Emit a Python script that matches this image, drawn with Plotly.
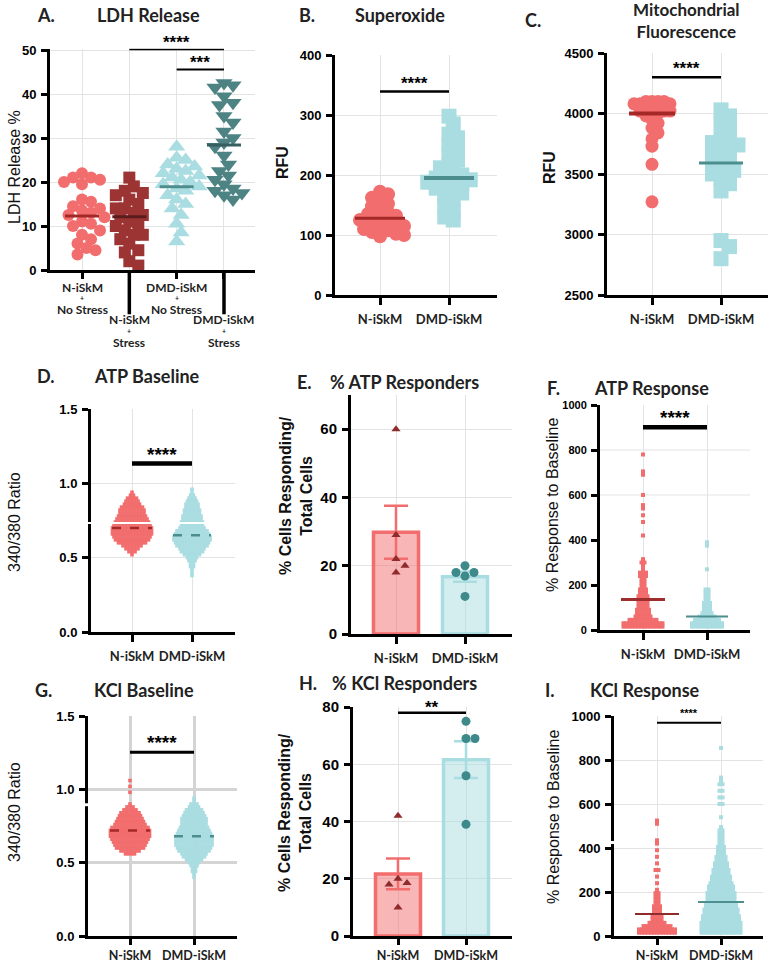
import numpy as np
import plotly.graph_objects as go

W, H = 772, 964
OFF = 0
WF, HF = W, H

# ---------------- categories / labels ----------------
groups2 = ["N-iSkM", "DMD-iSkM"]
ldh_cat_lines = [["N-iSkM", "+", "No Stress"], ["N-iSkM", "+", "Stress"],
                 ["DMD-iSkM", "+", "No Stress"], ["DMD-iSkM", "+", "Stress"]]

# ---------------- A: LDH release % ----------------
ldh_n_nostress = [22, 21, 21, 20.5, 20, 19.5, 16, 15.5, 14.5, 14, 13.5, 13, 12.5, 12,
                  11, 10.5, 10, 9, 8, 7, 6, 5, 4.5, 3.5]
ldh_n_stress = [21, 19, 18, 17.5, 17, 16, 15, 14, 14, 13, 12.5, 12, 11, 10.5, 10, 9,
                8, 8, 7, 6, 4.5, 4, 2, 1]
ldh_dmd_nostress = [28, 25.5, 25, 24, 23.5, 23, 22.5, 22, 21.5, 21, 20.5, 20, 19.5, 19,
                    18.5, 18, 17, 16, 15, 14, 12.5, 10.5, 8.5, 6.5]
ldh_dmd_stress = [42.5, 42, 41.5, 39.5, 38, 37.5, 35, 33.5, 31.5, 30, 29, 28, 26, 24,
                  22.5, 21.5, 20.5, 19.5, 18.5, 18, 17.5, 17, 16]
ldh_means = [12.3, 12.1, 18.9, 28.4]

# ---------------- B: Superoxide (RFU) ----------------
sox_n = [172, 168, 162, 158, 152, 148, 142, 138, 135, 132, 128, 125, 122, 120, 118,
         115, 112, 110, 108, 105, 102, 100, 98]
sox_dmd = [298, 285, 268, 262, 250, 243, 235, 225, 218, 212, 205, 200, 198, 195, 192,
           190, 188, 185, 182, 178, 175, 170, 165, 160, 150, 140, 130, 125]
sox_means = [128, 195]

# ---------------- C: Mitochondrial fluorescence (RFU) ----------------
mito_n = [4100, 4100, 4100, 4100, 4080, 4080, 4080, 4050, 4050, 4050, 4020, 4020, 4020,
          4000, 4000, 3980, 3950, 3920, 3880, 3840, 3790, 3730, 3580, 3270]
mito_dmd = [4030, 3980, 3920, 3870, 3800, 3780, 3760, 3740, 3720, 3700, 3680, 3640,
            3600, 3580, 3560, 3530, 3500, 3460, 3420, 3360, 2950, 2900, 2800]
mito_means = [4000, 3590]

# ---------------- D: ATP baseline (340/380) ----------------
atpb_n_levels = [0.52, 0.54, 0.56, 0.58, 0.60, 0.62, 0.64, 0.66, 0.68, 0.70, 0.72,
                 0.74, 0.76, 0.78, 0.80, 0.82, 0.84, 0.86, 0.88, 0.90, 0.92, 0.94]
atpb_n_counts = [1, 3, 5, 7, 10, 12, 13, 14, 14, 14, 13, 12, 11, 10, 9, 9, 8, 6, 5, 4, 2, 1]
atpb_dmd_levels = [0.38, 0.40, 0.42, 0.44, 0.46, 0.48, 0.50, 0.52, 0.54, 0.56, 0.58,
                   0.60, 0.62, 0.64, 0.66, 0.68, 0.70, 0.72, 0.74, 0.76, 0.78, 0.80,
                   0.82, 0.84, 0.86, 0.88, 0.90, 0.92, 0.94, 0.96]
atpb_dmd_counts = [1, 1, 1, 2, 2, 3, 4, 6, 8, 9, 11, 12, 13, 13, 12, 11, 9, 8, 8, 7,
                   7, 6, 6, 5, 5, 4, 3, 2, 1, 1]
atpb_means = [0.70, 0.65]

# ---------------- E: % ATP responders ----------------
atpr_n = [60, 29, 22, 20, 18]
atpr_dmd = [20, 18, 18, 17, 11]

# ---------------- F: ATP response (% of baseline) ----------------
atpresp_n_levels = [15, 30, 45, 60, 75, 90, 105, 120, 135, 150, 165, 180, 195, 210, 225,
                    240, 255, 270, 285, 300, 315, 420, 480, 510, 540, 555, 600, 690, 705, 780]
atpresp_n_counts = [14, 14, 10, 6, 5, 5, 4, 4, 4, 4, 3, 3, 2, 2, 2, 3, 3, 1, 1, 2, 1,
                    1, 1, 1, 1, 1, 1, 1, 1, 1]
atpresp_dmd_levels = [15, 30, 45, 60, 75, 90, 105, 120, 135, 150, 165, 180, 270, 375, 390]
atpresp_dmd_counts = [11, 11, 9, 6, 4, 3, 3, 3, 2, 2, 2, 2, 1, 1, 1]
atpresp_means = [135, 60]

# ---------------- G: KCl baseline (340/380) ----------------
kclb_n_levels = [0.56, 0.58, 0.60, 0.62, 0.64, 0.66, 0.68, 0.70, 0.72, 0.74, 0.76,
                 0.78, 0.80, 0.82, 0.84, 0.86, 0.88, 0.90, 0.98, 1.02, 1.06]
kclb_n_counts = [4, 7, 10, 11, 12, 13, 14, 14, 14, 13, 11, 10, 9, 8, 7, 5, 3, 1, 1, 1, 1]
kclb_dmd_levels = [0.40, 0.42, 0.44, 0.46, 0.48, 0.50, 0.52, 0.54, 0.56, 0.58, 0.60,
                   0.62, 0.64, 0.66, 0.68, 0.70, 0.72, 0.74, 0.76, 0.78, 0.80, 0.82,
                   0.84, 0.86, 0.88, 0.90, 0.92, 0.94]
kclb_dmd_counts = [1, 1, 2, 2, 3, 4, 6, 8, 9, 11, 12, 13, 13, 13, 13, 12, 11, 10, 9, 9,
                   9, 8, 7, 6, 4, 3, 1, 1]
kclb_means = [0.72, 0.68]

# ---------------- H: % KCl responders ----------------
kclr_n = [42, 20, 18.5, 18, 10]
kclr_dmd = [75, 69, 69, 56, 39]

# ---------------- I: KCl response (% of baseline) ----------------
kclresp_n_levels = [15, 30, 45, 60, 75, 90, 105, 120, 135, 150, 165, 180, 195, 210, 240,
                    270, 300, 330, 360, 390, 420, 435, 510, 525]
kclresp_n_counts = [13, 13, 10, 6, 4, 4, 3, 3, 3, 2, 2, 2, 2, 1, 1, 1, 2, 1, 1, 1, 1, 1, 1, 1]
kclresp_dmd_levels = [15, 30, 45, 60, 75, 90, 105, 120, 135, 150, 165, 180, 195, 210, 225,
                      240, 255, 270, 285, 300, 315, 330, 345, 360, 375, 390, 405, 420,
                      435, 450, 465, 480, 495, 540, 600, 630, 660, 690, 705, 720, 855]
kclresp_dmd_counts = [14, 14, 14, 14, 13, 13, 12, 12, 11, 11, 10, 10, 10, 9, 9, 8, 7, 7,
                      6, 6, 5, 5, 4, 4, 3, 3, 3, 2, 2, 2, 2, 2, 1, 1, 2, 2, 2, 2, 1, 1, 1]
kclresp_means = [100, 155]

# significance: (panel, x0, x1, y_line, label, y_text)
sig_marks = [
    (1, 1, 3, 50.2, "****", 52.6), (1, 2, 3, 45.6, "***", 47.9),
    (2, 0, 1, 339, "****", 359), (3, 0, 1, 4300, "****", 4405),
    (4, 0, 1, 1.134, "****", 1.225), (6, 0, 1, 901, "****", 965),
    (7, 0, 1, 1.252, "****", 1.345), (8, 0, 1, 78, "**", 81.3),
    (9, 0, 1, 969, "****", 1025),
]

# ---------------- styling ----------------
SALMON = "#F26D6D"
LBLUE = "#A9DDE1"
MAROON = "#9C3434"
DTEAL = "#4E8384"
RED_MEAN = "#A52828"
TEAL_MEAN = "#4C8E8E"
GRID = "#E3E3E3"
TICKFONT = dict(family="Liberation Sans, Arial", size=13, color="black", weight="bold")
CATFONT = dict(family="Lato", size=13, color="#222222", weight="bold")
TITLEFONT = dict(family="Lato", size=18, color="#222222", weight="bold")

# panel geometry in page pixels (axis box), first category pixel, category spacing
geom = {
    1: dict(l=50, r=255, t=48.7, b=270, c0=82, sp=47.33, yr=[0, 50.3]),
    2: dict(l=335, r=497, t=55, b=295, c0=380, sp=69, yr=[0, 400]),
    3: dict(l=607, r=768, t=53, b=295, c0=652, sp=69, yr=[2500, 4500]),
    4: dict(l=91, r=235, t=409, b=632, c0=132, sp=60, yr=[0, 1.5]),
    5: dict(l=351, r=512, t=395, b=634, c0=396, sp=69, yr=[0, 70]),
    6: dict(l=600, r=750, t=405, b=630, c0=643, sp=64, yr=[0, 1000]),
    7: dict(l=88, r=237, t=716, b=936, c0=130, sp=64, yr=[0, 1.5]),
    8: dict(l=353, r=512, t=707, b=936, c0=398, sp=68, yr=[0, 80]),
    9: dict(l=614, r=763, t=716, b=936, c0=657, sp=64, yr=[0, 1000]),
}
for g in geom.values():
    g["ppx"] = g["sp"]
    g["ppy"] = (g["b"] - g["t"]) / (g["yr"][1] - g["yr"][0])


def fx(x):   # page pixel -> paper x
    return min(max((x - OFF) / WF, 0.0), 1.0)


def fy(y):   # page pixel -> paper y
    return min(max(1 - (y - OFF) / HF, 0.0), 1.0)


def xa(i):
    return "x" if i == 1 else f"x{i}"


def ya(i):
    return "y" if i == 1 else f"y{i}"


def beeswarm(vals, ppy, ppx, d):
    vals = np.asarray(vals, float)
    ys = vals * ppy
    order = np.argsort(-vals, kind="stable")
    steps = [0.0]
    for j in range(1, 80):
        steps += [j * d * 0.5, -j * d * 0.5]
    PX, PY = [], []
    offs = np.zeros(len(vals))
    for idx in order:
        y = ys[idx]
        if PX:
            ax_ = np.array(PX)
            ay_ = np.array(PY)
            near = np.abs(ay_ - y) < d
            pxn = ax_[near]
            dy2 = (ay_[near] - y) ** 2
        else:
            pxn = np.array([])
            dy2 = np.array([])
        chosen = 0.0
        for c in steps:
            if pxn.size == 0 or np.all(dy2 + (pxn - c) ** 2 >= d * d):
                chosen = c
                break
        PX.append(chosen)
        PY.append(y)
        offs[idx] = chosen / ppx
    return offs


def rows(levels, counts, spacing_px, ppx):
    xs, ys = [], []
    for v, n in zip(levels, counts):
        for k in range(n):
            xs.append((k - (n - 1) / 2) * spacing_px / ppx)
            ys.append(v)
    return np.array(xs), np.array(ys)


fig = go.Figure()


def add_swarm(i, center, vals, color, symbol, size, d):
    g = geom[i]
    off = beeswarm(vals, g["ppy"], g["ppx"], d)
    fig.add_trace(go.Scatter(
        x=center + off, y=vals, mode="markers", xaxis=xa(i), yaxis=ya(i),
        marker=dict(color=color, symbol=symbol, size=size, line=dict(width=0)),
        cliponaxis=False, showlegend=False, hoverinfo="y"))


def add_dense(i, center, levels, counts, color, size=3.6, spacing=3.0):
    g = geom[i]
    xs, ys = rows(levels, counts, spacing, g["ppx"])
    fig.add_trace(go.Scatter(
        x=center + xs, y=ys, mode="markers", xaxis=xa(i), yaxis=ya(i),
        marker=dict(color=color, symbol="square", size=size, line=dict(width=0)),
        cliponaxis=False, showlegend=False, hoverinfo="y"))


def add_mean(i, center, m, color, hw_px, width=3, dash="solid"):
    g = geom[i]
    hw = hw_px / g["ppx"]
    fig.add_trace(go.Scatter(
        x=[center - hw, center + hw], y=[m, m], mode="lines", xaxis=xa(i), yaxis=ya(i),
        line=dict(color=color, width=width, dash=dash), showlegend=False, hoverinfo="skip"))


# ---- A ----
ldh_sets = [ldh_n_nostress, ldh_n_stress, ldh_dmd_nostress, ldh_dmd_stress]
ldh_cols = [SALMON, MAROON, LBLUE, DTEAL]
ldh_syms = ["circle", "square", "triangle-up", "triangle-down"]
ldh_sizes = [12, 12, 15, 15]
ldh_mean_cols = [RED_MEAN, "#5A1C1C", TEAL_MEAN, "#365F60"]
for k in range(4):
    add_swarm(1, k, ldh_sets[k], ldh_cols[k], ldh_syms[k], ldh_sizes[k], 9)
for k in range(4):
    add_mean(1, k, ldh_means[k], ldh_mean_cols[k], 17, 3)

# ---- B ----
add_swarm(2, 0, sox_n, SALMON, "circle", 14, 8)
add_swarm(2, 1, sox_dmd, LBLUE, "square", 15, 8.5)
add_mean(2, 0, sox_means[0], RED_MEAN, 25, 3)
add_mean(2, 1, sox_means[1], TEAL_MEAN, 25, 4)

# ---- C ----
add_swarm(3, 0, mito_n, SALMON, "circle", 13, 6)
add_swarm(3, 1, mito_dmd, LBLUE, "square", 15, 8.5)
add_mean(3, 0, mito_means[0], RED_MEAN, 23, 4)
add_mean(3, 1, mito_means[1], TEAL_MEAN, 22, 3)

# ---- D ----
add_dense(4, 0, atpb_n_levels, atpb_n_counts, SALMON)
add_dense(4, 1, atpb_dmd_levels, atpb_dmd_counts, LBLUE)
add_mean(4, 0, atpb_means[0], RED_MEAN, 20, 2.5, "dash")
add_mean(4, 1, atpb_means[1], TEAL_MEAN, 19, 2.5, "dash")


# ---- E / H bars ----
def add_bars(i, n_vals, d_vals):
    g = geom[i]
    bw = 45 / g["ppx"]
    for k, (vals, line_c, fill_c, pt_c, sym, psz) in enumerate([
            (n_vals, SALMON, "rgba(242,109,109,0.5)", "#8E2B2B", "triangle-up", 8),
            (d_vals, LBLUE, "rgba(169,221,225,0.5)", "#3E8A8B", "circle", 9)]):
        arr = np.asarray(vals, float)
        mean = arr.mean()
        sem = arr.std(ddof=1) / np.sqrt(len(arr))
        fig.add_trace(go.Bar(
            x=[k], y=[mean], width=bw, xaxis=xa(i), yaxis=ya(i),
            marker=dict(color=fill_c, line=dict(color=line_c, width=3.5)),
            error_y=dict(type="data", array=[sem], color=line_c, thickness=2.5, width=12),
            showlegend=False, hoverinfo="y"))
        off = beeswarm(arr, g["ppy"], g["ppx"], 9)
        fig.add_trace(go.Scatter(
            x=k + off, y=arr, mode="markers", xaxis=xa(i), yaxis=ya(i),
            marker=dict(color=pt_c, symbol=sym, size=psz, line=dict(width=0)),
            cliponaxis=False, showlegend=False, hoverinfo="y"))


add_bars(5, atpr_n, atpr_dmd)
add_bars(8, kclr_n, kclr_dmd)

# ---- F ----
add_dense(6, 0, atpresp_n_levels, atpresp_n_counts, SALMON, 4, 3.0)
add_dense(6, 1, atpresp_dmd_levels, atpresp_dmd_counts, LBLUE, 4, 3.0)
add_mean(6, 0, atpresp_means[0], "#9E2E2E", 22, 3)
add_mean(6, 1, atpresp_means[1], TEAL_MEAN, 21, 2)

# ---- G ----
add_dense(7, 0, kclb_n_levels, kclb_n_counts, SALMON)
add_dense(7, 1, kclb_dmd_levels, kclb_dmd_counts, LBLUE)
add_mean(7, 0, kclb_means[0], RED_MEAN, 20, 2.5, "dash")
add_mean(7, 1, kclb_means[1], TEAL_MEAN, 20, 2.5, "dash")

# ---- I ----
add_dense(9, 0, kclresp_n_levels, kclresp_n_counts, SALMON, 4, 3.0)
add_dense(9, 1, kclresp_dmd_levels, kclresp_dmd_counts, LBLUE, 4, 3.0)
add_mean(9, 0, kclresp_means[0], "#8E2B2B", 22, 2)
add_mean(9, 1, kclresp_means[1], "#4E8E8E", 23, 2)

# ---------------- axes ----------------
ytick = {
    1: [0, 10, 20, 30, 40, 50], 2: [0, 100, 200, 300, 400],
    3: [2500, 3000, 3500, 4000, 4500], 4: [0, 0.5, 1.0, 1.5], 5: [0, 20, 40, 60],
    6: [0, 200, 400, 600, 800, 1000], 7: [0, 0.5, 1.0, 1.5], 8: [0, 20, 40, 60, 80],
    9: [0, 200, 400, 600, 800, 1000],
}
ytickfont_size = {1: 13, 2: 13, 3: 13, 4: 13, 5: 15, 6: 11, 7: 13, 8: 15, 9: 13}

layout = dict(
    width=WF, height=HF, margin=dict(l=0, r=0, t=0, b=0, autoexpand=False),
    paper_bgcolor="white", plot_bgcolor="white", barmode="overlay",
    showlegend=False, shapes=[], annotations=[],
)

for i, g in geom.items():
    xkey = "xaxis" if i == 1 else f"xaxis{i}"
    ykey = "yaxis" if i == 1 else f"yaxis{i}"
    ncat = 4 if i == 1 else 2
    gridc = "#D4D4D4" if i == 7 else GRID
    gridw = 3 if i == 7 else 1
    bottom_row = i in (7, 8, 9)
    layout[xkey] = dict(
        domain=[fx(g["l"]), fx(g["r"])], anchor=ya(i),
        range=[(g["l"] - g["c0"]) / g["sp"], (g["r"] - g["c0"]) / g["sp"]],
        tickmode="array", tickvals=list(range(ncat)),
        ticktext=[""] * 4 if i == 1 else groups2,
        ticks="outside", ticklen=6 if (i == 1 or bottom_row) else 7, tickwidth=2.5,
        tickcolor="black",
        ticklabelstandoff=0 if bottom_row else 3,
        tickfont=dict(CATFONT, size=12.5) if bottom_row else CATFONT, automargin=False,
        showline=True, linecolor="black", linewidth=3,
        showgrid=True, gridcolor=gridc, gridwidth=gridw, zeroline=False, fixedrange=True,
    )
    yt = ytick[i]
    layout[ykey] = dict(
        domain=[fy(g["b"]), fy(g["t"])], anchor=xa(i), range=g["yr"],
        tickmode="array", tickvals=yt,
        ticktext=[f"{v:.1f}" for v in yt] if i in (4, 7) else [str(v) for v in yt],
        ticks="outside", ticklen=6, tickwidth=2.5, tickcolor="black",
        tickfont=dict(TICKFONT, size=ytickfont_size[i]), ticklabelstandoff=2,
        automargin=False,
        showline=True, linecolor="black", linewidth=3,
        showgrid=(i != 6), gridcolor=gridc, gridwidth=gridw, zeroline=False,
        fixedrange=True,
    )

shapes = layout["shapes"]
ann = layout["annotations"]

# F: only upper gridlines visible
for v in [600, 800]:
    shapes.append(dict(type="line", xref="x6 domain", yref="y6", x0=0, x1=1, y0=v, y1=v,
                       line=dict(color=GRID, width=1), layer="below"))

# A: long ticks for staggered labels
for k in [1, 3]:
    shapes.append(dict(type="line", xref="x", yref="y domain", x0=k, x1=k, y0=0,
                       y1=-0.2, line=dict(color="black", width=3.5)))

# axis breaks
shapes.append(dict(type="line", xref="x4 domain", yref="y4", x0=-0.06, x1=1, y0=0.733,
                   y1=0.733, line=dict(color="white", width=2)))
shapes.append(dict(type="rect", xref="x7 domain", yref="y7", x0=-0.05, x1=0.03, y0=0.885,
                   y1=0.905, fillcolor="white", line=dict(width=0)))
shapes.append(dict(type="rect", xref="x9 domain", yref="y9", x0=-0.05, x1=0.03, y0=418,
                   y1=432, fillcolor="white", line=dict(width=0)))

# significance bars
for (i, x0, x1, yl, lab, yt_) in sig_marks:
    lw = {1: 2, 2: 2.5, 3: 2.5, 4: 4.5, 6: 4.5, 7: 3, 8: 2.5, 9: 2}[i]
    shapes.append(dict(type="line", xref=xa(i), yref=ya(i), x0=x0, x1=x1, y0=yl, y1=yl,
                       line=dict(color="black", width=lw)))
    fs = 11 if i == 9 else (19 if i in (4, 6, 7) else 17)
    y0r, y1r = geom[i]["yr"]
    ann.append(dict(text=lab, xref=xa(i), yref=f"{ya(i)} domain", x=(x0 + x1) / 2,
                    y=(yt_ - y0r) / (y1r - y0r),
                    showarrow=False, yanchor="middle", yshift=-0.22 * fs,
                    font=dict(family="Liberation Sans, Arial", size=fs, color="black",
                              weight="bold")))

# A category labels (3 stacked lines, staggered)
for k, lines in enumerate(ldh_cat_lines):
    base = 288 if k % 2 == 0 else 321
    for j, t in enumerate(lines):
        yy = base + (10 if j == 1 else (21 if j == 2 else -1))
        ann.append(dict(text=t, xref="x", yref="paper", x=k, y=fy(yy),
                        showarrow=False, xanchor="center", yanchor="middle",
                        font=dict(CATFONT, size=7 if t == "+" else 12)))


def text_ann(t, x, y, font, xanchor="left", angle=0):
    ann.append(dict(text=t, xref="paper", yref="paper", x=(x - OFF) / WF,
                    y=1 - (y - OFF) / HF, showarrow=False,
                    xanchor=xanchor, yanchor="middle", textangle=angle, font=font))


# panel titles
titles = [
    ("A.", 35, 15), ("LDH Release", 95, 15),
    ("B.", 297, 15), ("Superoxide", 353, 15),
    ("C.", 523, 20),
    ("D.", 35, 376), ("ATP Baseline", 92, 376),
    ("E.", 295, 382), ("% ATP Responders", 328, 382),
    ("F.", 545, 388), ("ATP Response", 592, 388),
    ("G.", 33, 690), ("KCl Baseline", 92, 690),
    ("H.", 297, 683), ("% KCl Responders", 330, 683),
    ("I.", 543, 690), ("KCl Response", 588, 690),
]
for t, x, y in titles:
    text_ann(t, x, y, TITLEFONT)
text_ann("Mitochondrial<br>Fluorescence", 686, 20.5, dict(TITLEFONT, size=17), "center")

# y-axis titles (rotated)
AX_REG = dict(family="Liberation Sans, Arial", size=16, color="#111111")
AX_BOLD = dict(family="Liberation Sans, Arial", size=16, color="#111111", weight="bold")
ytitles = [
    ("LDH Release %", 14, 167, AX_REG),
    ("RFU", 282, 163, AX_BOLD),
    ("RFU", 549, 168, AX_BOLD),
    ("340/380 Ratio", 14, 522, AX_REG),
    ("% Cells Responding/<br>Total Cells", 296, 496, AX_BOLD),
    ("% Response to Baseline", 552, 505, AX_REG),
    ("340/380 Ratio", 14, 812, AX_REG),
    ("% Cells Responding/<br>Total Cells", 295, 813, AX_BOLD),
    ("% Response to Baseline", 553, 817, AX_REG),
]
for t, x, y, f in ytitles:
    text_ann(t, x, y, f, "center", -90)

fig.update_layout(**layout)
fig.write_html("out.html", config={"displayModeBar": False},
               post_script="document.body.style.margin='0';document.body.style.overflow='hidden';")
